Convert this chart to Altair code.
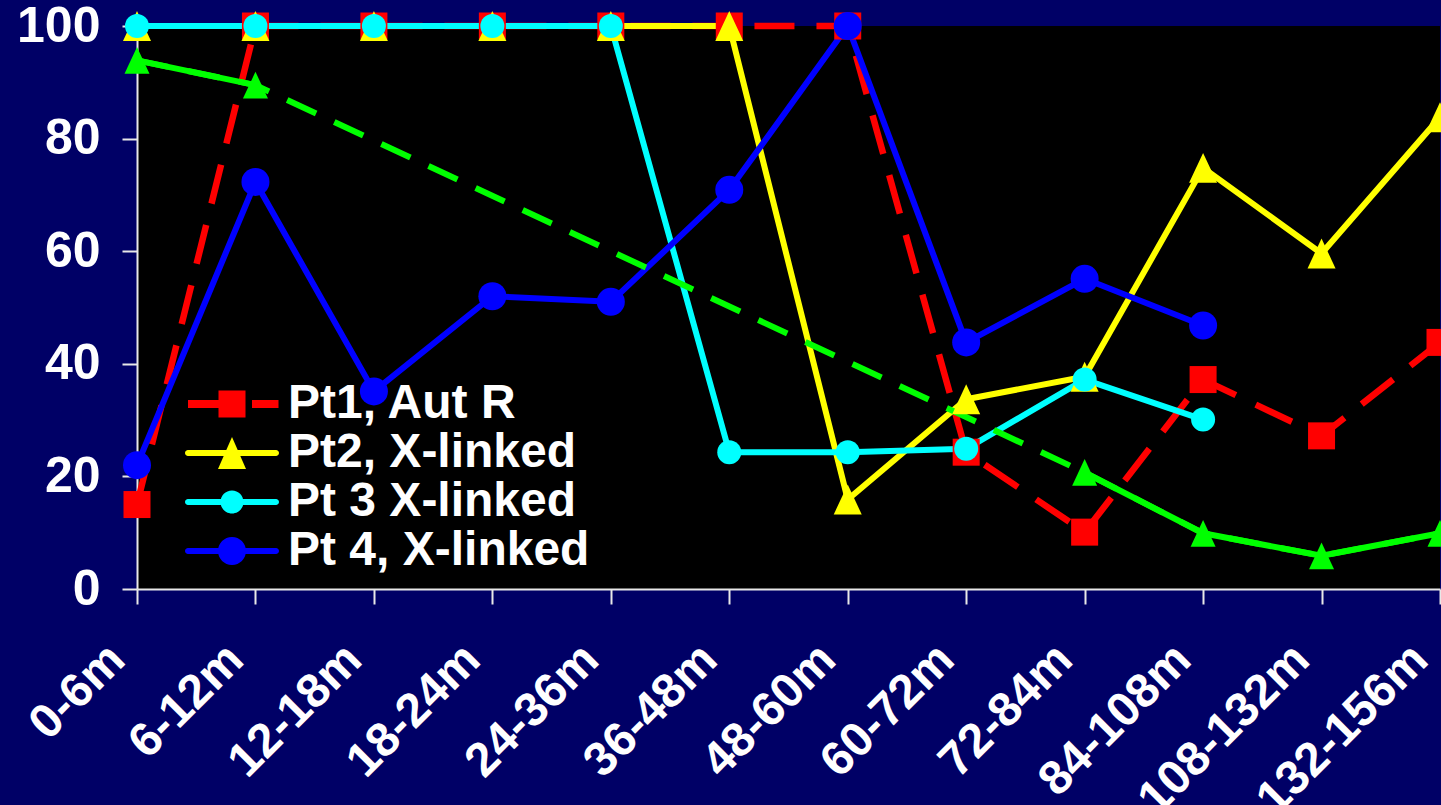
import altair as alt

# Follow-up periods (x categories)
periods = ["0-6m", "6-12m", "12-18m", "18-24m", "24-36m", "36-48m",
           "48-60m", "60-72m", "72-84m", "84-108m", "108-132m", "132-156m"]

# Series names; the last one is plotted but left out of the legend
series_names = ["Pt1, Aut R", "Pt2, X-linked", "Pt 3 X-linked", "Pt 4, X-linked", "Pt 5"]

# Percent values per period (None = no measurement)
pt1 = [15, 100, 100, 100, 100, 100, 100, 24.3, 10.1, 37.2, 27.2, 43.8]
pt2 = [100, 100, 100, 100, 100, 100, 15.9, 33.7, 37.7, 74.8, 59.6, 83.8]
pt3 = [100, 100, 100, 100, 100, 24.3, 24.3, 24.9, 37.2, 30.1, None, None]
pt4 = [22, 72.3, 35.1, 52.0, 51.0, 70.9, 100, 43.8, 55.1, 46.8, None, None]
pt5 = [93.9, 89.5, None, None, None, None, None, None, 20.7, 9.9, 5.9, 9.9]

y_ticks = [0, 20, 40, 60, 80, 100]

# ---- styling -------------------------------------------------------------
FONT = "Liberation Sans"
AXIS_GREY = "#e8e8e8"
colors = ["#ff0000", "#ffff00", "#00ffff", "#0000ff", "#00ff00"]
TRI = "M0,-1.07L1,1.07L-1,1.07Z"
marker_shapes = ["square", TRI, "circle", "circle", TRI]
marker_sizes = [729, 784, 576, 784, 625]

# legend glyphs: line stub + marker, drawn in a 50px symbol box (unit = 25px)
BAR = "M-1.76,-0.12H1.76A0.12,0.12 0 0 1 1.76,0.12H-1.76A0.12,0.12 0 0 1 -1.76,-0.12Z"
legend_paths = [
    "M-1.76,-0.16H-0.5V0.16H-1.76Z M-0.54,-0.54H0.54V0.54H-0.54Z M0.8,-0.16H1.86V0.16H0.8Z",
    BAR + " M0,-0.64L0.56,0.64L-0.56,0.64Z",
    BAR + " M-0.46,0A0.46,0.46 0 1 1 0.46,0A0.46,0.46 0 1 1 -0.46,0Z",
    BAR + " M-0.56,0A0.56,0.56 0 1 1 0.56,0A0.56,0.56 0 1 1 -0.56,0Z",
]

# ---- data table ----------------------------------------------------------
rows = []
for name, vals in zip(series_names, [pt1, pt2, pt3, pt4, pt5]):
    for p, v in zip(periods, vals):
        rows.append({"period": p, "series": name, "value": v})
data = alt.Data(values=rows)
base = alt.Chart(data)

x_enc = alt.X(
    "period:N",
    scale=alt.Scale(type="point", domain=periods, padding=0),
    axis=alt.Axis(
        title=None, labelAngle=-45, labelAlign="right", labelBaseline="middle",
        labelPadding=48, labelOffset=-20, labelLimit=500, labelOverlap=False,
        labelBound=False,
    ),
)
y_enc = alt.Y(
    "value:Q",
    scale=alt.Scale(domain=[0, 100], nice=False, zero=True),
    axis=alt.Axis(title=None, values=y_ticks, labelPadding=22, labelFontSize=50),
)

# ---- lines (under all markers) ------------------------------------------
layers = []
for name, col in zip(series_names, colors):
    kw = dict(color=col, strokeWidth=6, strokeJoin="round", opacity=1)
    if name == series_names[0]:
        kw.update(strokeDash=[40, 22], strokeWidth=6.5)
    layers.append(
        base.mark_line(**kw)
        .encode(x=x_enc, y=y_enc)
        .transform_filter(alt.datum.series == name)
    )

# dashed bridge across the gap in the last series
layers.append(
    base.mark_line(color=colors[4], strokeWidth=6, strokeDash=[32, 20], opacity=1)
    .encode(x=x_enc, y=y_enc)
    .transform_filter(alt.datum.series == series_names[4])
    .transform_filter("isValid(datum.value)")
)

# ---- markers -------------------------------------------------------------
for name, col, shp, sz in zip(series_names, colors, marker_shapes, marker_sizes):
    layers.append(
        base.mark_point(filled=True, color=col, shape=shp, size=sz,
                        opacity=1, strokeWidth=0)
        .encode(x=x_enc, y=y_enc)
        .transform_filter(alt.datum.series == name)
    )

# ---- legend (scale-only layer, no marks drawn) -------------------------
legend_def = alt.Legend(
    title=None, orient="none", legendX=70, legendY=353, padding=0,
    rowPadding=0, labelOffset=31, labelLimit=0, symbolSize=2500,
    labelFont=FONT, labelFontSize=48, labelFontWeight="bold", labelColor="white",
    symbolStrokeWidth=0, symbolOpacity=1, zindex=0,
)
legend_layer = (
    base.mark_point(filled=True, size=2500, opacity=1, strokeWidth=0)
    .encode(
        color=alt.Color("series:N",
                        scale=alt.Scale(domain=series_names[:4], range=colors[:4]),
                        legend=legend_def),
        shape=alt.Shape("series:N",
                        scale=alt.Scale(domain=series_names[:4], range=legend_paths),
                        legend=legend_def),
    )
    .transform_filter("false")
)
layers.append(legend_layer)

chart = (
    alt.layer(*layers)
    .properties(
        width=1303, height=563, background="#000066",
        padding={"left": 137, "top": 26, "right": 1, "bottom": 216},
        autosize=alt.AutoSizeParams(type="none"),
        view=alt.ViewBackground(fill="#000000", stroke="transparent", strokeWidth=0),
    )
    .configure_view(fill="#000000", stroke="transparent", strokeWidth=0)
    .configure_axis(
        labelFont=FONT, labelFontSize=48, labelFontWeight="bold", labelColor="white",
        tickSize=15, tickWidth=2, tickColor=AXIS_GREY,
        domainColor=AXIS_GREY, domainWidth=2, grid=False,
    )
)

chart.save("out.html", embed_options={"renderer": "svg", "actions": False})
